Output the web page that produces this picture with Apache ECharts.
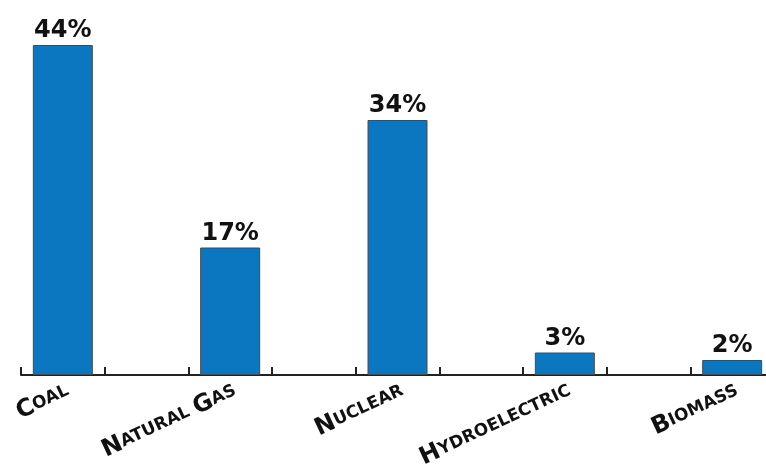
<!DOCTYPE html>
<html>
<head>
<meta charset="utf-8">
<script src="https://cdn.jsdelivr.net/npm/echarts@6/dist/echarts.min.js"></script>
<style>
  html, body { margin: 0; padding: 0; background: #fff; overflow: hidden; }
  /* 轴线在右侧被裁掉, 所以画布比窗口宽一点 */
  #main { width: 774px; height: 467px; }
</style>
</head>
<body>
<div id="main"></div>
<script>
// 发电来源占比 (blank slots sit between the real categories)
const categories = ['Coal', '', 'Natural Gas', '', 'Nuclear', '', 'Hydroelectric', '', 'Biomass']
const shares = [44, null, 17, null, 34, null, 3, null, 2]

// 首字母大写, 其余小号大写
function smallCaps(name) {
  if (!name) return ''
  return name.split(' ').map(w => '{b|' + w[0].toUpperCase() + '}{s|' + w.slice(1).toUpperCase() + '}').join('{s| }')
}

const font = 'DejaVu Sans'
const myChart = echarts.init(document.getElementById('main'))
myChart.setOption({
  animation: false,
  grid: { left: 21, right: 0, top: 0, bottom: 92, outerBoundsMode: 'none' },
  xAxis: {
    type: 'category',
    data: categories,
    axisLine: { lineStyle: { color: '#222', width: 2 } },
    axisTick: { show: true, interval: 0, inside: true, length: 8, lineStyle: { color: '#222', width: 2 } },
    axisLabel: {
      interval: 0,
      rotate: 25,
      margin: 4,
      verticalAlign: 'top',
      color: '#111',
      formatter: smallCaps,
      rich: {
        b: { fontSize: 24, fontWeight: 'bold', fontFamily: font, color: '#111' },
        s: { fontSize: 17, fontWeight: 'bold', fontFamily: font, color: '#111' }
      }
    }
  },
  yAxis: {
    type: 'value',
    min: 0,
    max: 50,
    show: false
  },
  series: [{
    type: 'bar',
    data: shares,
    barWidth: 60,
    itemStyle: { color: '#0a77c0', borderColor: '#4a4a4a', borderWidth: 1 },
    label: {
      show: true,
      position: 'top',
      distance: 2,
      formatter: p => p.value + '%',
      fontSize: 24,
      fontWeight: 'bold',
      fontFamily: font,
      color: '#111'
    }
  }]
})
</script>
</body>
</html>
